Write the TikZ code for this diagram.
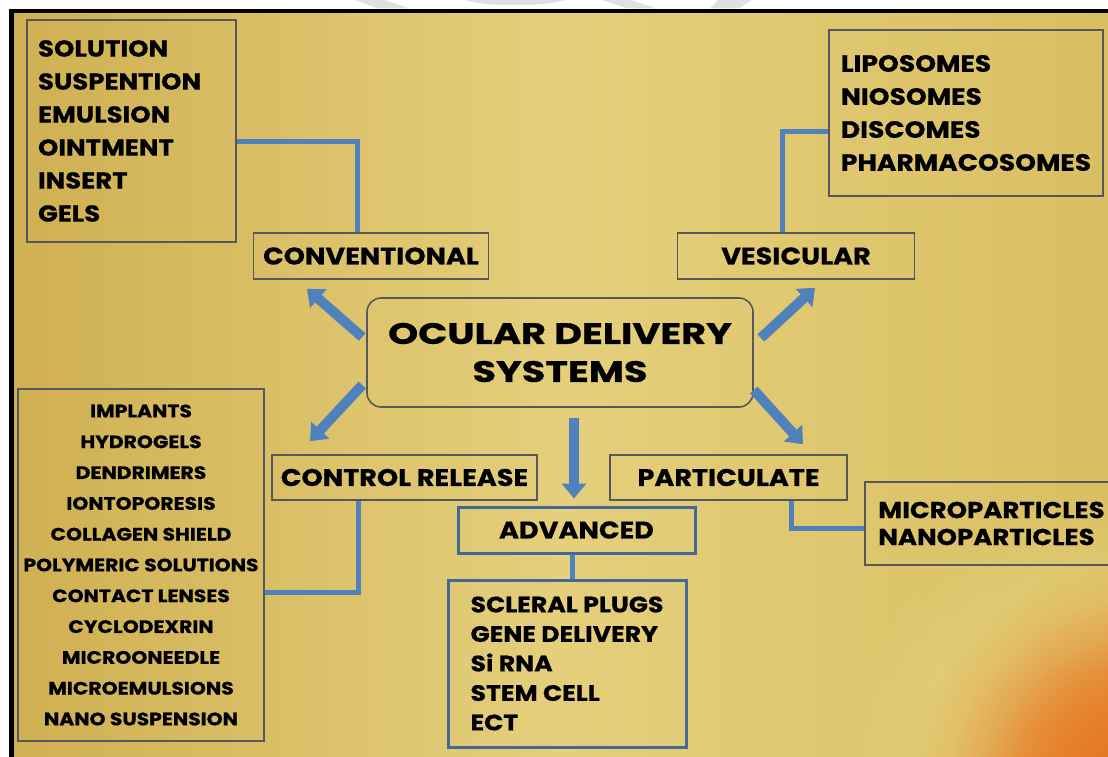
\documentclass[tikz,border=0pt]{standalone}
\usepackage{fontspec}
\setmainfont{Poppins}[FakeStretch=1.13, FakeBold=0.6]
\newfontfamily\headfont{Poppins}[FakeStretch=1.3, FakeBold=0.8]
\usetikzlibrary{arrows.meta,fadings}

\definecolor{goldL}{RGB}{207,176,82}
\definecolor{goldM}{RGB}{229,207,124}
\definecolor{goldR}{RGB}{217,191,98}
\definecolor{pale}{RGB}{236,222,140}
\definecolor{glow}{RGB}{230,120,34}
\definecolor{boxline}{RGB}{88,88,92}
\definecolor{linkblue}{RGB}{79,129,189}
\definecolor{advline}{RGB}{68,104,150}
\definecolor{wmark}{RGB}{224,224,224}

\tikzfading[name=glowfade, inner color=transparent!0, outer color=transparent!100]

\tikzset{
  catbox/.style={draw=boxline, line width=1.6pt, minimum height=46pt,
    font=\fontsize{24}{28}\selectfont\bfseries},
  listbox/.style={draw=boxline, line width=1.6pt},
  advbox/.style={draw=advline, line width=3pt},
  link/.style={draw=linkblue, line width=5pt},
  bigarrow/.style={draw=linkblue, line width=10pt, -{Triangle[length=15pt,width=24pt]}},
}

\begin{document}
\begin{tikzpicture}[x=1pt,y=-1pt]
\useasboundingbox (0,0) rectangle (1108,757);
% backdrop
\shade[left color=goldL, right color=goldR, middle color=goldM] (11,11) rectangle (1108,757);
\fill[pale, path fading=glowfade] (1120,770) circle (280pt);
\foreach \r in {230,190,150}
  \fill[glow, path fading=glowfade] (1140,790) circle (\r pt);
\draw[line width=4.5pt] (11.5,770) |- (1120,10.8);
\fill[wmark] (355,0) -- (385,0) -- (410,8.5) -- (378,8.5) -- cycle;
\fill[wmark] (465,0) .. controls (485,7) and (545,7) .. (565,0) -- cycle;
\fill[wmark] (602,0) -- (631,0) -- (656,8.5) -- (627,8.5) -- cycle;
\fill[wmark] (718,0) -- (752,0) -- (739,8.5) -- (710,8.5) -- cycle;

% centre
\node[draw=boxline, line width=1.6pt, rounded corners=14pt, minimum width=386pt,
  minimum height=109pt, align=center, font=\headfont\fontsize{29.5}{38}\selectfont\bfseries]
  (ods) at (560,352.5) {OCULAR DELIVERY\\SYSTEMS};

% categories
\node[catbox, minimum width=235pt] (conv) at (371,256) {CONVENTIONAL};
\node[catbox, minimum width=237pt] (ves) at (796,256) {VESICULAR};
\node[catbox, minimum width=265pt, minimum height=45pt] (cr) at (404.5,477.5) {CONTROL RELEASE};
\node[catbox, minimum width=237pt, minimum height=45pt] (part) at (728.5,477.5) {PARTICULATE};
\node[catbox, advbox, minimum width=237pt] (adv) at (576.5,530) {ADVANCED};

% lists
\node[listbox, align=left, text width=187pt, inner xsep=11pt, minimum height=222pt,
  font=\fontsize{23}{33}\selectfont\bfseries] (conlist) at (131.5,131)
  {SOLUTION\\SUSPENTION\\EMULSION\\OINTMENT\\INSERT\\GELS};
\node[listbox, align=left, minimum width=274pt, minimum height=166pt,
  font=\fontsize{23.5}{33}\selectfont\bfseries] (veslist) at (966,113)
  {LIPOSOMES\\NIOSOMES\\DISCOMES\\PHARMACOSOMES};
\node[listbox, align=center, minimum width=246pt, minimum height=352pt,
  font=\fontsize{18}{30.8}\selectfont\bfseries] (crlist) at (141,565)
  {IMPLANTS\\HYDROGELS\\DENDRIMERS\\IONTOPORESIS\\COLLAGEN SHIELD\\POLYMERIC SOLUTIONS\\CONTACT LENSES\\CYCLODEXRIN\\MICROONEEDLE\\MICROEMULSIONS\\NANO SUSPENSION};
\node[listbox, align=left, minimum width=253pt, minimum height=83pt,
  font=\fontsize{23}{27}\selectfont\bfseries] (partlist) at (991.5,523.5)
  {MICROPARTICLES\\NANOPARTICLES};
\node[listbox, advbox, align=left, minimum width=238pt, minimum height=167pt,
  font=\fontsize{22.3}{29.5}\selectfont\bfseries] (advlist) at (567,663.5)
  {SCLERAL PLUGS\\GENE DELIVERY\\Si RNA\\STEM CELL\\ECT};

% arrows out of the centre
\draw[bigarrow] ([shift={(-4,-15.5)}]ods.west) -- ([shift={(-64,9)}]conv.south);
\draw[bigarrow] ([shift={(7,-14.5)}]ods.east) -- ([shift={(19,8)}]ves.south);
\draw[bigarrow] ([shift={(-4,32.5)}]ods.west) -- ([shift={(-94.5,-13)}]cr.north);
\draw[bigarrow] ([shift={(0,37.5)}]ods.east) -- ([shift={(74.5,-10)}]part.north);
\draw[bigarrow] ([shift={(14,10)}]ods.south) -- ([shift={(-2.5,-7)}]adv.north);

% links to the lists
\draw[link] ([shift={(0,11)}]conlist.east) -| ([shift={(-14,0)}]conv.north);
\draw[link] ([shift={(0,19)}]veslist.west) -| ([shift={(-14,0)}]ves.north);
\draw[link] ([shift={(-46.5,0)}]cr.south) |- ([shift={(0,27)}]crlist.east);
\draw[link] ([shift={(62.5,0)}]part.south) |- ([shift={(0,4.5)}]partlist.west);
\draw[link] ([shift={(-4.5,0)}]adv.south) -- ([shift={(5,0)}]advlist.north);
\end{tikzpicture}
\end{document}
